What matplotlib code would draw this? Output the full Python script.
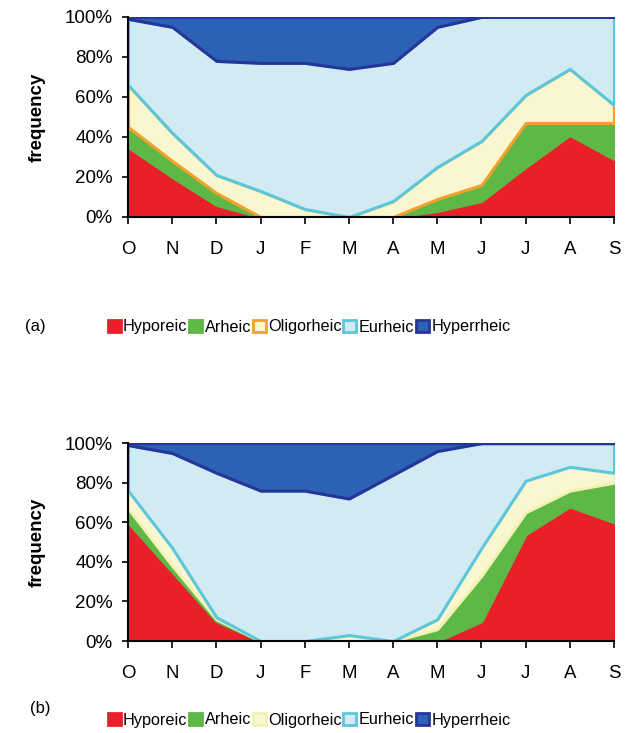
import numpy as np
import matplotlib
matplotlib.use("Agg")
import matplotlib.pyplot as plt
from matplotlib.patches import Patch

plt.rcParams['font.family'] = ['Liberation Sans', 'DejaVu Sans']

# Mois (octobre -> septembre)
months = ['O', 'N', 'D', 'J', 'F', 'M', 'A', 'M', 'J', 'J', 'A', 'S']
series = ['Hyporeic', 'Arheic', 'Oligorheic', 'Eurheic', 'Hyperrheic']

# Fréquences (%) - panneau (a)
hypo_a = [35, 20, 6, 0, 0, 0, 0, 3, 8, 25, 41, 29]
arhe_a = [10, 8, 6, 0, 0, 0, 0, 6, 8, 22, 6, 18]
olig_a = [21, 14, 9, 13, 4, 0, 8, 16, 22, 14, 27, 9]
eurh_a = [33, 53, 57, 64, 73, 74, 69, 70, 62, 39, 26, 44]
hype_a = [1, 5, 22, 23, 23, 26, 23, 5, 0, 0, 0, 0]

# Fréquences (%) - panneau (b)
hypo_b = [60, 35, 10, 0, 0, 0, 0, 0, 10, 54, 68, 60]
arhe_b = [7, 3, 1, 0, 0, 0, 0, 6, 23, 11, 8, 20]
olig_b = [9, 9, 1, 0, 0, 3, 0, 5, 14, 16, 12, 5]
eurh_b = [23, 48, 73, 76, 76, 69, 84, 85, 53, 19, 12, 15]
hype_b = [1, 5, 15, 24, 24, 28, 16, 4, 0, 0, 0, 0]

fills = ['#E9202A', '#5DB846', '#F8F7D0', '#D2EBF2', '#2C62B3']
edges_a = ['#E9202A', '#5DB846', '#F2A12A', '#5CC6DC', '#27349A']
edges_b = ['#E9202A', '#5DB846', '#F4F1B4', '#5CC6DC', '#27349A']

fig = plt.figure(figsize=(6.31, 7.33), dpi=100)


def aire_empilee(ax, data, edges):
    x = np.arange(len(months))
    bas = np.zeros(len(months))
    for vals, fc, ec in zip(data, fills, edges):
        haut = bas + np.array(vals)
        ax.fill_between(x, bas, haut, facecolor=fc, edgecolor=ec, linewidth=2.2)
        bas = haut
    ax.set_xlim(0, 11)
    ax.set_ylim(0, 100)
    ax.set_xticks(x)
    ax.set_xticklabels(months, fontsize=13.4)
    ax.set_yticks(range(0, 101, 20))
    ax.set_yticklabels([f'{v}%' for v in range(0, 101, 20)], fontsize=13.5)
    ax.tick_params(axis='x', direction='out', length=5, width=1.2, pad=12)
    ax.tick_params(axis='y', direction='out', length=4, width=1.2, pad=7)
    ax.spines['top'].set_visible(False)
    ax.spines['right'].set_visible(False)
    for s in ['left', 'bottom']:
        ax.spines[s].set_linewidth(1.5)
        ax.spines[s].set_zorder(5)
    ax.set_ylabel('frequency', fontsize=13.5, fontweight='bold', labelpad=14)


ax1 = fig.add_axes([0.203, 0.704, 0.770, 0.273])
aire_empilee(ax1, [hypo_a, arhe_a, olig_a, eurh_a, hype_a], edges_a)

ax2 = fig.add_axes([0.203, 0.1255, 0.770, 0.270])
aire_empilee(ax2, [hypo_b, arhe_b, olig_b, eurh_b, hype_b], edges_b)


def legende(edges, y):
    handles = [Patch(facecolor=fc, edgecolor=ec, linewidth=2)
               for fc, ec in zip(fills, edges)]
    fig.legend(handles, series, loc='center', bbox_to_anchor=(0.49, y),
               ncol=5, frameon=False, fontsize=11.7, handlelength=0.8,
               handleheight=0.8, handletextpad=0.15, columnspacing=0.1,
               borderaxespad=0)


legende(edges_a, 1 - 327 / 733)
legende(edges_b, 1 - 720 / 733)

fig.text(35 / 631, 1 - 327 / 733, '(a)', fontsize=12, ha='center', va='center')
fig.text(40 / 631, 1 - 708 / 733, '(b)', fontsize=12, ha='center', va='center')

fig.savefig('out.png', dpi=100)
